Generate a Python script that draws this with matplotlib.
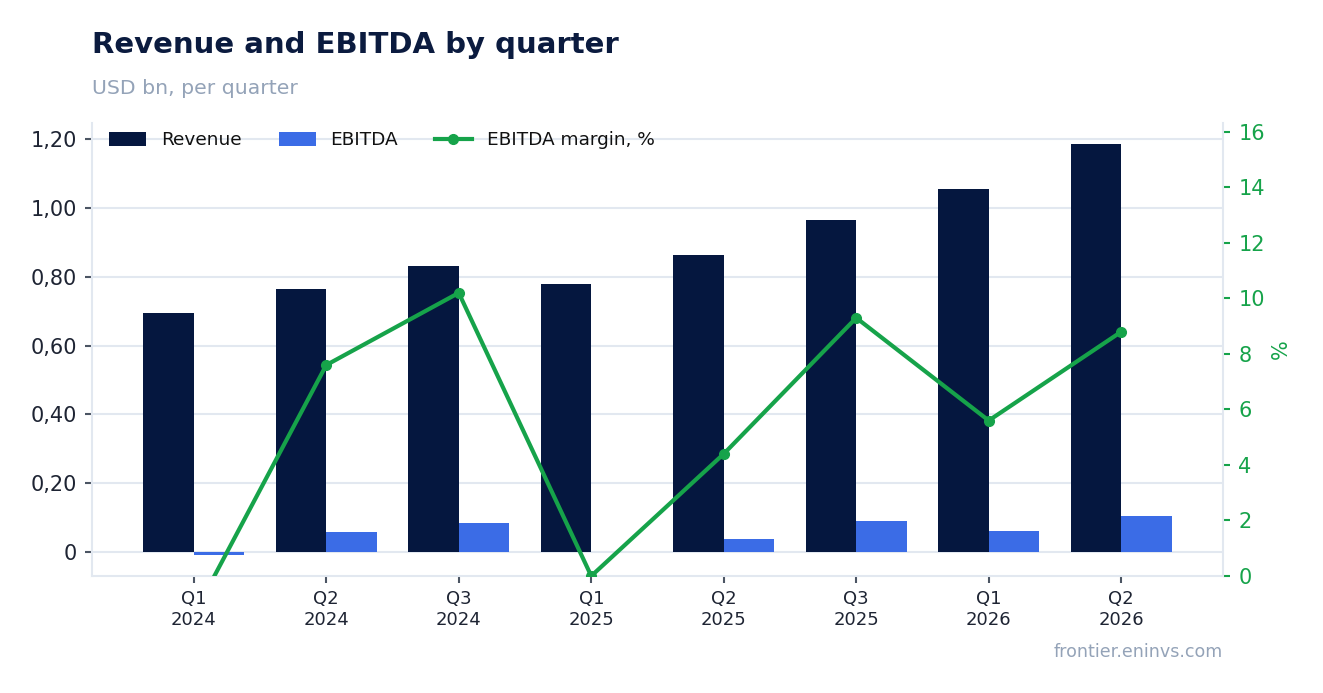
import matplotlib
matplotlib.use("Agg")
import matplotlib.pyplot as plt
import numpy as np
from matplotlib.ticker import FuncFormatter

quarters = ["Q1\n2024", "Q2\n2024", "Q3\n2024", "Q1\n2025", "Q2\n2025", "Q3\n2025", "Q1\n2026", "Q2\n2026"]
revenue = [0.694, 0.764, 0.831, 0.779, 0.863, 0.965, 1.055, 1.185]
ebitda = [-0.009, 0.058, 0.084, 0.0, 0.038, 0.090, 0.061, 0.105]
margin = [-1.4, 7.6, 10.2, 0.0, 4.4, 9.3, 5.6, 8.8]

NAVY = "#05173F"
BLUE = "#3B6CE6"
GREEN = "#16A34A"
GRID = "#E2E8F0"
TEXT = "#1E2433"

plt.rcParams["font.family"] = ["DejaVu Sans"]

fig = plt.figure(figsize=(13.23, 6.93), dpi=100)
ax = fig.add_axes([92/1323, 1-576/693, (1223-92)/1323, (576-123)/693])
ax2 = ax.twinx()

x = np.arange(len(quarters))
w = 0.38
ax.bar(x - w/2, revenue, w, color=NAVY, label="Revenue", zorder=3)
ax.bar(x + w/2, ebitda, w, color=BLUE, label="EBITDA", zorder=3)
ax2.plot(x, margin, color=GREEN, lw=3, marker="o", ms=7, label="EBITDA margin, %", zorder=4)

ax.set_xlim(-0.768, 7.768)
ax.set_ylim(-0.07, 1.247)
ax2.set_ylim(0, 16.32)

ax.set_yticks([0, 0.2, 0.4, 0.6, 0.8, 1.0, 1.2])
ax.yaxis.set_major_formatter(FuncFormatter(lambda v, p: "0" if abs(v) < 1e-9 else f"{v:.2f}".replace(".", ",")))
ax2.set_yticks(range(0, 17, 2))

ax.set_xticks(x)
ax.set_xticklabels(quarters)

ax.grid(axis="y", color=GRID, lw=1.5, zorder=0)
ax.set_axisbelow(True)
for a in (ax, ax2):
    for s in a.spines.values():
        s.set_color(GRID)
        s.set_linewidth(1.5)
    a.spines["top"].set_visible(False)
ax.spines["right"].set_visible(False)
ax2.spines["left"].set_visible(False)
ax2.spines["bottom"].set_visible(False)

ax.tick_params(axis="y", labelsize=15, colors="#4B5563", labelcolor=TEXT, length=5, width=1.5, pad=6)
ax.tick_params(axis="x", labelsize=13, colors="#4B5563", labelcolor=TEXT, length=5, width=1.5, pad=5)
ax2.tick_params(axis="y", labelsize=15, colors=GREEN, labelcolor=GREEN, length=5, width=1.5, pad=6)
ax2.set_ylabel("%", color=GREEN, fontsize=15, labelpad=4)

h1, l1 = ax.get_legend_handles_labels()
h2, l2 = ax2.get_legend_handles_labels()
leg = ax2.legend(h1 + h2, l1 + l2, loc="upper left", ncol=3, frameon=False, fontsize=13.3,
                 bbox_to_anchor=(0.008, 1.0), borderaxespad=0.05, handlelength=2.0,
                 handleheight=0.75, columnspacing=2.0, handletextpad=0.8)
for t in leg.get_texts():
    t.set_color("#111111")

fig.text(92/1323, 1-45/693, "Revenue and EBITDA by quarter", fontsize=21, fontweight="bold", color="#0B1B3F", va="center")
fig.text(92/1323, 1-88/693, "USD bn, per quarter", fontsize=14.7, color="#94A3B8", va="center")
fig.text(1223/1323, 1-652/693, "frontier.eninvs.com", fontsize=12.6, color="#94A3B8", ha="right", va="center")

fig.savefig("out.png", dpi=100, facecolor="white")
